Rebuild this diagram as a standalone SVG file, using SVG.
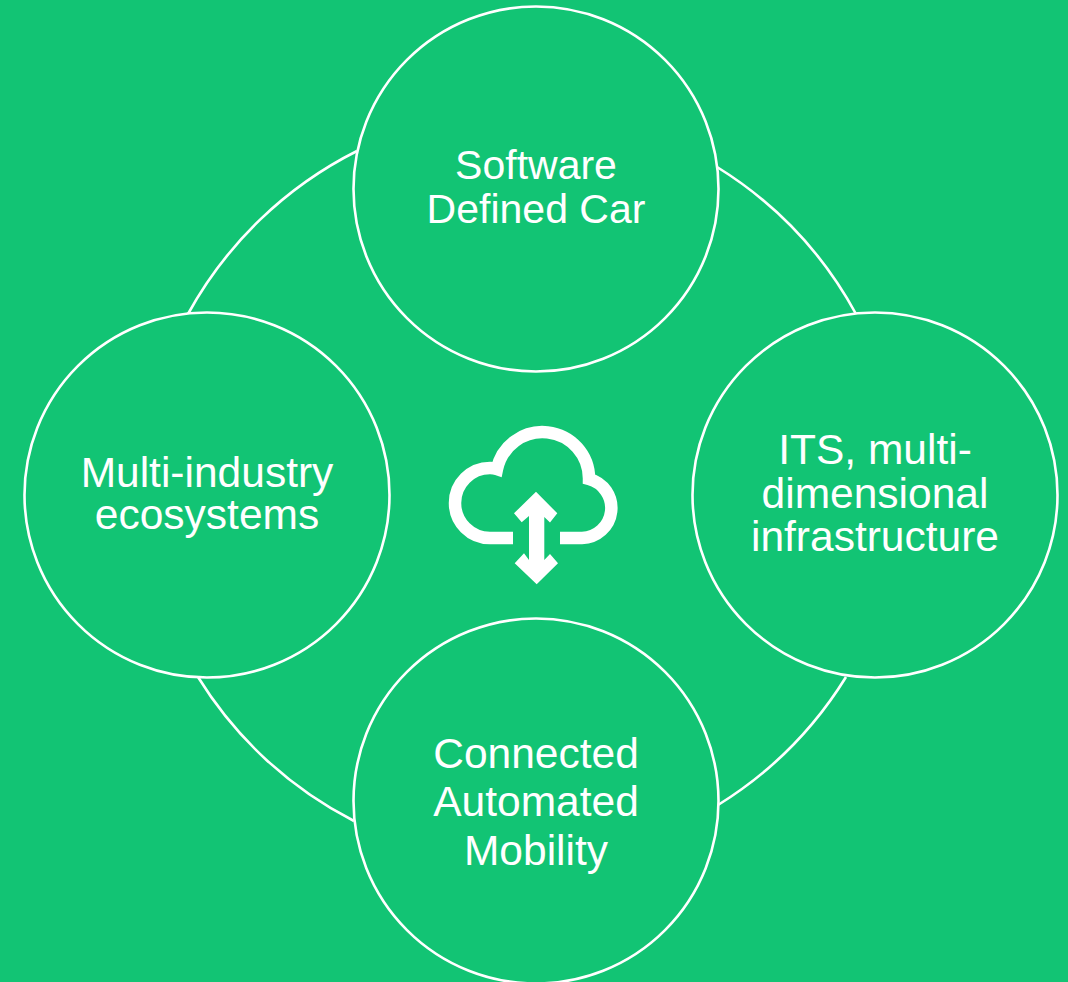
<svg xmlns="http://www.w3.org/2000/svg" width="1068" height="982" viewBox="0 0 1068 982">
<style>
.c{fill:#12c474;stroke:#fff;stroke-width:2.600}
.l{fill:none;stroke:#fff;stroke-width:2.600}
.t{fill:#fff;font-family:"Liberation Sans",Arial,sans-serif;font-size:42.500px;text-anchor:middle}
.s{font-size:41px}
</style>
<rect width="1068" height="982" fill="#12c474"/>
<g id="connectors">
<path class="l" d="M188 314A395 395 0 0 1 357 151"/>
<path class="l" d="M717 167A395 395 0 0 1 856 314"/>
<path class="l" d="M846 677A395 395 0 0 1 718 805"/>
<path class="l" d="M198 677A395 395 0 0 0 354 821"/>
</g>
<g id="node-top"><circle class="c" cx="536" cy="189" r="182.500"/>
<text class="t s" x="536" y="179">Software</text><text class="t s" x="536" y="223">Defined Car</text></g>
<g id="node-left"><circle class="c" cx="207" cy="495" r="182.500"/>
<text class="t" x="207" y="487">Multi-industry</text><text class="t" x="207" y="529">ecosystems</text></g>
<g id="node-right"><circle class="c" cx="875" cy="495" r="182.500"/>
<text class="t" x="875" y="464">ITS, multi-</text><text class="t" x="875" y="508">dimensional</text><text class="t" x="875" y="551">infrastructure</text></g>
<g id="node-bottom"><circle class="c" cx="536" cy="801" r="182.500"/>
<text class="t" x="536" y="768">Connected</text><text class="t" x="536" y="816">Automated</text><text class="t" x="536" y="865">Mobility</text></g>
<g id="icon">
<path d="M513 538H490A35 35 0 0 1 490 468Q494 468 497 469A46.500 46.500 0 0 1 589 479A30 30 0 0 1 582 538H560" fill="none" stroke="#fff" stroke-width="12.500"/>
<path fill="#fff" d="M536 491.700L557.300 513.300L550 522.500L544.300 517V560L550 554L558 563.300L536.700 584.300L514.700 563.300L524 553.300L529 560V516L521.700 522.300L514 513.300Z"/>
</g>
</svg>
